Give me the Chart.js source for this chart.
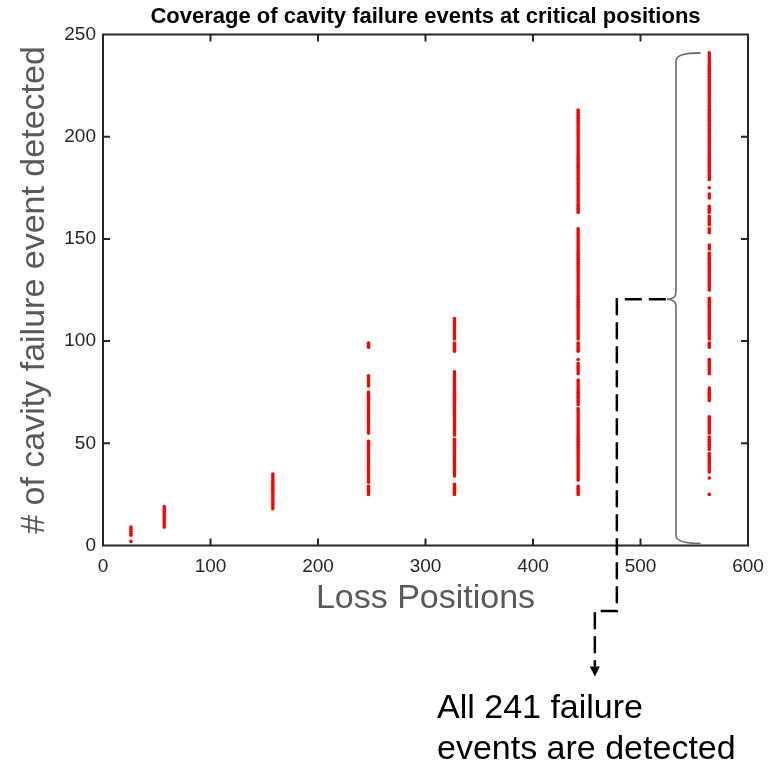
<!DOCTYPE html>
<html>
<head>
<meta charset="utf-8">
<title>Coverage of cavity failure events</title>
<script src="https://cdn.jsdelivr.net/npm/chart.js@4"></script>
<style>
  html, body { margin: 0; padding: 0; background: #ffffff; }
  canvas { display: block; }
</style>
</head>
<body>
<canvas id="coverage" width="777" height="763"></canvas>
<script>
// Loss positions along the machine where cavity failures were simulated
const lossPositions = [26, 57, 158, 247, 327, 442, 564];

// Detected failure-event counts at each loss position, listed as runs [first, last]
const detectedRanges = [
  [[2, 2], [5, 9]],
  [[9, 19]],
  [[18, 35]],
  [[97, 99], [78, 83], [55, 75], [31, 51], [25, 29]],
  [[101, 111], [95, 99], [54, 85], [34, 52], [25, 30]],
  [[163, 213], [101, 155], [95, 99], [91, 91], [84, 89], [69, 81], [62, 67], [32, 61], [25, 29]],
  [[179, 241], [175, 175], [170, 172], [163, 166], [157, 161], [153, 155], [145, 147],
   [125, 143], [101, 121], [97, 99], [84, 91], [71, 77], [55, 63], [47, 53], [36, 45],
   [33, 33], [25, 25]]
];

const xTicks = [0, 100, 200, 300, 400, 500, 600];
const yTicks = [0, 50, 100, 150, 200, 250];
const totalEvents = 241;
const noteLines = ['All 241 failure', 'events are detected'];

// One point per detected event count
const points = [];
lossPositions.forEach((pos, i) => {
  detectedRanges[i].forEach(([first, last]) => {
    for (let n = first; n <= last; n++) points.push({ x: pos, y: n });
  });
});

const FONT = '"Liberation Sans", Arial, Helvetica, sans-serif';
const INK = '#262626';

// Plot frame with inward ticks, the brace around the last column and the callout
const frameAndNote = {
  id: 'frameAndNote',
  afterDatasetsDraw(chart) {
    const { ctx, chartArea: a, scales: { x, y } } = chart;
    ctx.save();

    // frame
    ctx.strokeStyle = INK;
    ctx.lineWidth = 2;
    ctx.strokeRect(a.left, a.top, a.right - a.left, a.bottom - a.top);
    ctx.beginPath();
    xTicks.slice(1, -1).forEach(v => {
      const px = x.getPixelForValue(v);
      ctx.moveTo(px, a.bottom); ctx.lineTo(px, a.bottom - 7);
      ctx.moveTo(px, a.top); ctx.lineTo(px, a.top + 7);
    });
    yTicks.slice(1, -1).forEach(v => {
      const py = y.getPixelForValue(v);
      ctx.moveTo(a.left, py); ctx.lineTo(a.left + 7, py);
      ctx.moveTo(a.right, py); ctx.lineTo(a.right - 7, py);
    });
    ctx.stroke();

    // brace spanning 0 .. totalEvents
    const xv = x.getPixelForValue(533);
    const xe = x.getPixelForValue(556);
    const xt = x.getPixelForValue(524.5);
    const yt = y.getPixelForValue(totalEvents);
    const yb = y.getPixelForValue(1);
    const ym = y.getPixelForValue(totalEvents / 2);
    ctx.strokeStyle = '#6a6a6a';
    ctx.lineWidth = 1.6;
    ctx.beginPath();
    ctx.moveTo(xe, yt);
    ctx.quadraticCurveTo(xv, yt, xv, yt + 8);
    ctx.lineTo(xv, ym - 7);
    ctx.quadraticCurveTo(xv, ym, xt, ym);
    ctx.quadraticCurveTo(xv, ym, xv, ym + 7);
    ctx.lineTo(xv, yb - 8);
    ctx.quadraticCurveTo(xv, yb, xe, yb);
    ctx.stroke();

    // dashed leader down to the note
    const xd = x.getPixelForValue(478);
    const xd2 = xd - 22;
    const yStep = a.bottom + 65.5;
    const yArrow = a.bottom + 121;
    ctx.strokeStyle = '#000000';
    ctx.lineWidth = 2.5;
    ctx.setLineDash([17, 7]);
    ctx.beginPath();
    ctx.moveTo(xt - 1, ym);
    ctx.lineTo(xd, ym);
    ctx.lineTo(xd, yStep);
    ctx.lineTo(xd2, yStep);
    ctx.lineTo(xd2, yArrow);
    ctx.stroke();
    ctx.setLineDash([]);
    ctx.fillStyle = '#000000';
    ctx.beginPath();
    ctx.moveTo(xd2 - 5, yArrow);
    ctx.lineTo(xd2 + 5, yArrow);
    ctx.lineTo(xd2, yArrow + 10);
    ctx.closePath();
    ctx.fill();

    // note text
    ctx.font = '34px ' + FONT;
    ctx.textAlign = 'left';
    ctx.textBaseline = 'alphabetic';
    ctx.fillText(noteLines[0], 437, 718);
    ctx.fillText(noteLines[1], 437, 759);

    ctx.restore();
  }
};

new Chart(document.getElementById('coverage'), {
  type: 'scatter',
  data: {
    datasets: [{
      label: 'Detected failure events',
      data: points,
      backgroundColor: '#ff0000',
      borderWidth: 0,
      pointRadius: 1.8,
      pointHoverRadius: 1.8
    }]
  },
  options: {
    responsive: false,
    animation: false,
    events: [],
    layout: { padding: { left: 0, top: 0, right: 29, bottom: 137.5 } },
    plugins: {
      legend: { display: false },
      tooltip: { enabled: false },
      title: {
        display: true,
        fullSize: false,
        text: 'Coverage of cavity failure events at critical positions',
        color: '#000000',
        font: { family: FONT, size: 22, weight: 'bold', lineHeight: 1.2 },
        padding: { top: 3.5, bottom: 4.6 }
      }
    },
    scales: {
      x: {
        type: 'linear',
        min: 0,
        max: 600,
        afterBuildTicks: s => { s.ticks = xTicks.map(v => ({ value: v })); },
        afterFit: s => { s.height = 80; },
        grid: { display: false, drawTicks: false },
        border: { display: false },
        ticks: { color: INK, padding: 10, font: { family: FONT, size: 19 } },
        title: {
          display: true,
          text: 'Loss Positions',
          color: '#595959',
          font: { family: FONT, size: 34, lineHeight: 1.2 },
          padding: { top: 0, bottom: 6 }
        }
      },
      y: {
        type: 'linear',
        min: 0,
        max: 250,
        afterBuildTicks: s => { s.ticks = yTicks.map(v => ({ value: v })); },
        afterFit: s => { s.width = 103; },
        grid: { display: false, drawTicks: false },
        border: { display: false },
        ticks: { color: INK, padding: 7, font: { family: FONT, size: 19 } },
        title: {
          display: true,
          text: '# of cavity failure event detected',
          color: '#595959',
          font: { family: FONT, size: 34, lineHeight: 1.2 },
          padding: { top: 14.6, bottom: 0 }
        }
      }
    }
  },
  plugins: [frameAndNote]
});
</script>
</body>
</html>
